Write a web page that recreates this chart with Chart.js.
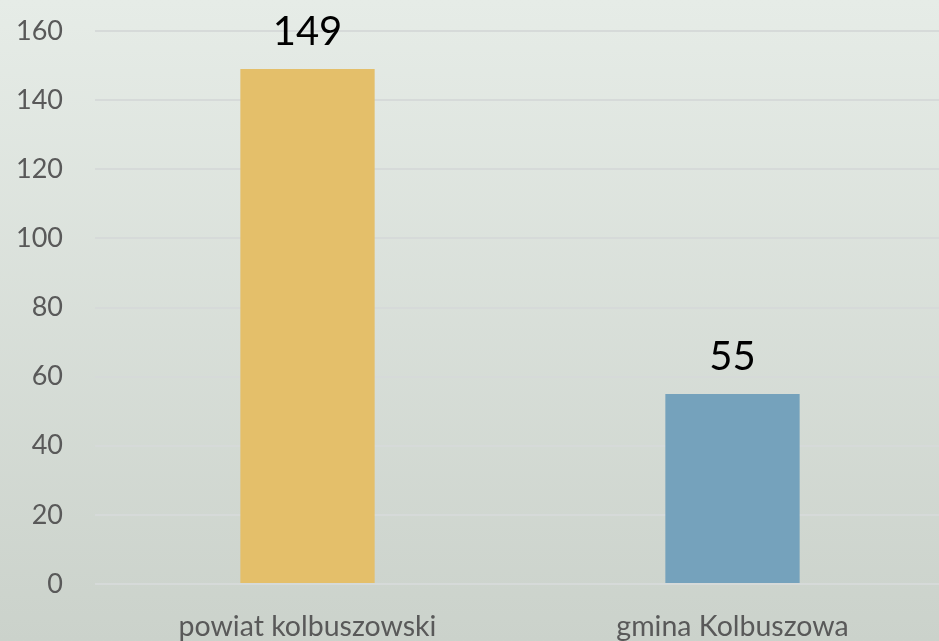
<!DOCTYPE html>
<html>
<head>
<meta charset="utf-8">
<script src="https://cdn.jsdelivr.net/npm/chart.js@4/dist/chart.umd.min.js"></script>
<style>
  html, body { margin: 0; padding: 0; background: #dde3dd; overflow: hidden; }
  /* plot runs a few pixels past the right edge, as in the original */
  #wrap { width: 945px; height: 641px; }
</style>
</head>
<body>
<div id="wrap"><canvas id="chart1"></canvas></div>
<script>
// data
const categories = ['powiat kolbuszowski', 'gmina Kolbuszowa']
const values = [149, 55]
const barColors = ['#e4bf6a', '#75a2bc']
const yMin = 0
const yMax = 160
const yStep = 20

// soft vertical gradient behind everything
const bgPlugin = {
  id: 'bg',
  beforeDraw(chart) {
    const ctx = chart.ctx
    const g = ctx.createLinearGradient(0, 0, 0, chart.height)
    g.addColorStop(0, '#e6ece7')
    g.addColorStop(1, '#cbd2cb')
    ctx.save()
    ctx.fillStyle = g
    ctx.fillRect(0, 0, chart.width, chart.height)
    ctx.restore()
  }
}

// value labels above the bars
const valueLabels = {
  id: 'valueLabels',
  afterDatasetsDraw(chart) {
    const ctx = chart.ctx
    ctx.save()
    ctx.font = '40px Lato'
    ctx.fillStyle = '#000'
    ctx.textAlign = 'center'
    ctx.textBaseline = 'alphabetic'
    chart.data.datasets.forEach((ds, i) => {
      chart.getDatasetMeta(i).data.forEach((bar, j) => {
        ctx.fillText(ds.data[j], bar.x, bar.y - 24)
      })
    })
    ctx.restore()
  }
}

const ctx = document.getElementById('chart1').getContext('2d')
new Chart(ctx, {
  type: 'bar',
  data: {
    labels: categories,
    datasets: [{
      data: values,
      backgroundColor: barColors,
      borderWidth: 0,
      barPercentage: 0.316,
      categoryPercentage: 1
    }]
  },
  options: {
    responsive: true,
    maintainAspectRatio: false,
    animation: false,
    layout: { padding: { top: 31, right: 0, bottom: 0, left: 0 } },
    plugins: {
      legend: { display: false },
      tooltip: { enabled: false }
    },
    scales: {
      x: {
        afterFit(scale) { scale.height = 57 },
        grid: { display: false },
        border: { display: false },
        ticks: {
          color: '#595959',
          font: { family: 'Lato', size: 28.5 },
          padding: 18,
          maxRotation: 0
        }
      },
      y: {
        min: yMin,
        max: yMax,
        afterFit(scale) {
          scale.width = 95
          scale.paddingTop = 0
          scale.paddingBottom = 0
        },
        grid: { color: '#d6dad9', lineWidth: 2, drawTicks: false },
        border: { display: false },
        ticks: {
          stepSize: yStep,
          color: '#595959',
          font: { family: 'Lato', size: 27 },
          padding: 32
        }
      }
    }
  },
  plugins: [bgPlugin, valueLabels]
})
</script>
</body>
</html>
